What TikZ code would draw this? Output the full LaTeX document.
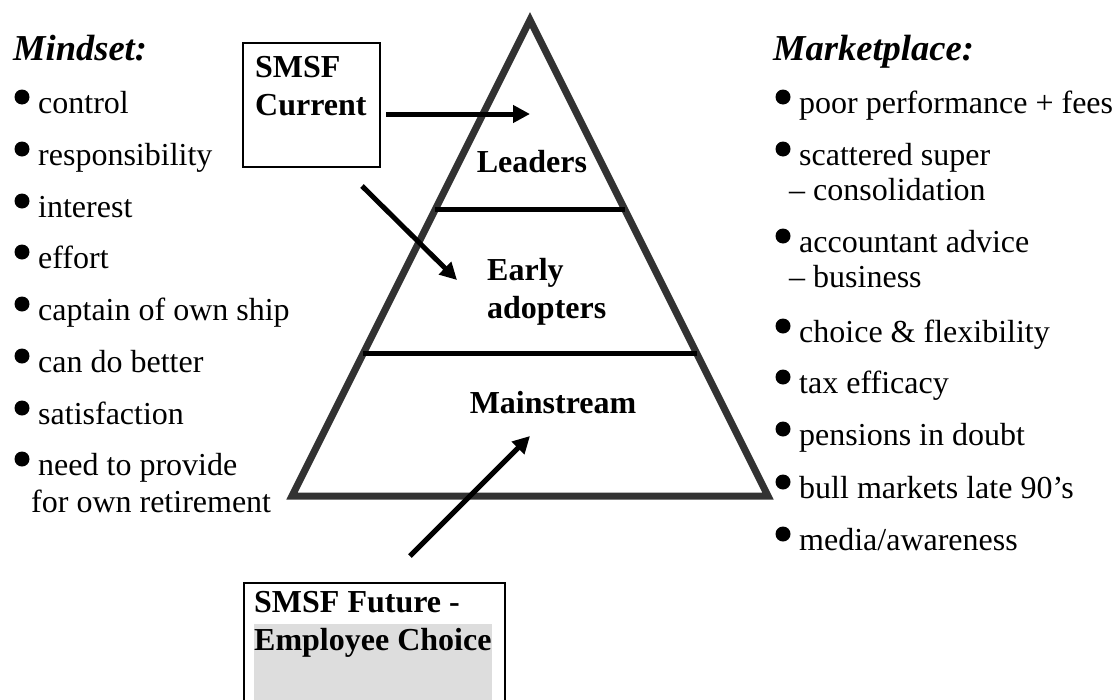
\documentclass[tikz,border=0pt]{standalone}
\usepackage{fontspec}
\setmainfont{Liberation Serif}
\usetikzlibrary{arrows.meta, calc}
\definecolor{pyrgrey}{HTML}{333333}
\definecolor{hilite}{HTML}{DDDDDD}

\begin{document}
\begin{tikzpicture}[x=1pt, y=-1pt,
    txt/.style={anchor=base west, inner sep=0pt, align=left, font=\fontsize{32}{37}\selectfont},
    tight/.style={txt, font=\fontsize{32}{35}\selectfont},
    head/.style={anchor=base west, inner sep=0pt, font=\fontsize{36.5}{40}\selectfont\bfseries\itshape},
    lbl/.style={anchor=base west, inner sep=0pt, align=left, font=\fontsize{32}{37.5}\selectfont\bfseries},
    dot/.style={circle, fill=black, inner sep=0pt, minimum size=15pt},
    arr/.style={line width=5pt, -{Triangle[length=17pt, width=17pt]}}]
          \useasboundingbox (0,0) rectangle (1114,699);
          \clip (0,0) rectangle (1114,699);

          % pyramid
          \coordinate (apex) at (530,20);
          \coordinate (bl) at (292,496);
          \coordinate (br) at (768,496);
          \draw [pyrgrey, line width=7pt] (apex) -- (bl) -- (br) -- cycle; % outline
          \draw [line width=5pt] ($(apex)!0.399!(bl)$) -- ($(apex)!0.399!(br)$); % top split
          \draw [line width=5pt] ($(apex)!0.70!(bl)$) -- ($(apex)!0.70!(br)$); % lower split

          % multi-line nodes sit on their last baseline
          \node [lbl, anchor=base] (lead) at (532,172) {Leaders};
          \node [lbl] (early) at (487,318) {Early\\adopters};
          \node [lbl, anchor=base] (main) at (553,413) {Mainstream};

          % boxes
          \node [draw, line width=2pt, anchor=north west, minimum width=137pt, minimum height=124pt] (cur) at (242,42) {};
          \node [lbl] (curtxt) at (255,115) {SMSF\\Current};

          \node [draw, line width=2pt, anchor=north west, minimum width=261pt, minimum height=140pt] (fut) at (243,582) {};
          \fill [hilite] (254,624) rectangle (492,720); % shading behind second line
          \node [lbl] (futtxt) at (254,650) {SMSF Future -\\Employee Choice};

          % arrows
          \coordinate (a1s) at (386,114);
          \coordinate (a1e) at (530,114);
          \coordinate (a2s) at (362,186);
          \coordinate (a2e) at (457,280);
          \coordinate (a3s) at (410,556);
          \coordinate (a3e) at (530,436);
          \draw [arr] (a1s) -- (a1e);
          \draw [arr] (a2s) -- (a2e);
          \draw [arr] (a3s) -- (a3e);

          % left list
          \node [head] (mind) at (13,60) {Mindset:};
          \node [dot] (md1) at (22,97) {};  \node [txt] (m1) at (38,113) {control};
          \node [dot] (md2) at (22,149) {}; \node [txt] (m2) at (38,165) {responsibility};
          \node [dot] (md3) at (22,201) {}; \node [txt] (m3) at (38,217) {interest};
          \node [dot] (md4) at (22,252) {}; \node [txt] (m4) at (38,268) {effort};
          \node [dot] (md5) at (22,304) {}; \node [txt] (m5) at (38,320) {captain of own ship};
          \node [dot] (md6) at (22,356) {}; \node [txt] (m6) at (38,372) {can do better};
          \node [dot] (md7) at (22,408) {}; \node [txt] (m7) at (38,424) {satisfaction};
          \node [dot] (md8) at (22,459) {}; \node [txt] (m8) at (38,512) {need to provide\\\hspace*{-7pt}for own retirement};

          % right list
          \node [head] (mkt) at (773,60) {Marketplace:};
          \node [dot] (kd1) at (783,97) {};  \node [txt] (k1) at (799,113) {poor performance + fees};
          \node [dot] (kd2) at (783,149) {}; \node [tight] (k2) at (799,200) {scattered super\\\hspace*{-10pt}– consolidation};
          \node [dot] (kd3) at (783,236) {}; \node [tight] (k3) at (799,287) {accountant advice\\\hspace*{-10pt}– business};
          \node [dot] (kd4) at (783,326) {}; \node [txt] (k4) at (799,342) {choice \& flexibility};
          \node [dot] (kd5) at (783,377) {}; \node [txt] (k5) at (799,393) {tax efficacy};
          \node [dot] (kd6) at (783,429) {}; \node [txt] (k6) at (799,445) {pensions in doubt};
          \node [dot] (kd7) at (783,482) {}; \node [txt] (k7) at (799,498) {bull markets late 90’s};
          \node [dot] (kd8) at (783,534) {}; \node [txt] (k8) at (799,550) {media/awareness};
        \end{tikzpicture}
\end{document}
